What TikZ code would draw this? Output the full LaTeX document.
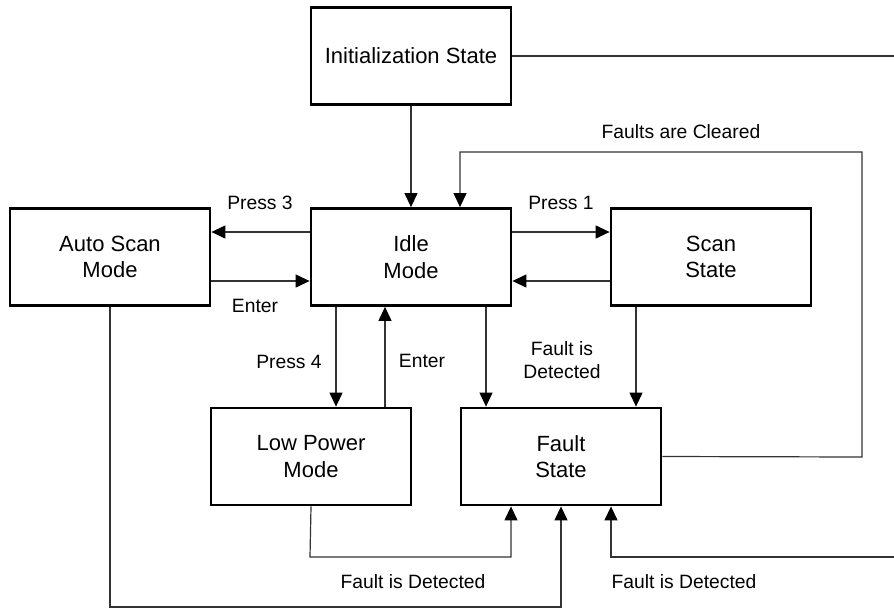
\documentclass[tikz,border=0pt]{standalone}
\usepackage{fontspec}
\setmainfont{Liberation Sans}
\usetikzlibrary{arrows.meta}
\begin{document}
\begin{tikzpicture}[x=1pt,y=-1pt,
 box/.style={draw=black,line width=2.8pt,minimum width=200pt,minimum height=97pt,align=center,font=\fontsize{22}{26.4}\selectfont,inner sep=0pt},
 conn/.style={draw=black!80,line width=1.2pt},
 arr/.style={conn,-{Triangle[length=14pt,width=13pt,color=black]}},
 lbl/.style={font=\fontsize{19.3}{23}\selectfont,align=center,inner sep=0pt}]
\useasboundingbox (0,0) rectangle (894,608);
\clip (0,0) rectangle (894,608);
\fill[white] (0,0) rectangle (894,608);

\node[box] (init) at (411,56) {Initialization State};
\node[box] (idle) at (411,257) {Idle\\Mode};
\node[box] (auto) at (110,257) {Auto Scan\\Mode};
\node[box] (scan) at (711,257) {Scan\\State};
\node[box] (low) at (311,456.5) {Low Power\\Mode};
\node[box] (fault) at (561,456.5) {Fault\\State};

\coordinate (rtop) at (910,56);
\coordinate (rbot) at (910,557);
\coordinate (clr) at (862,457);

% init -> idle
\draw[arr] (init.south) -- (idle.north);
% init -> fault (around the right edge)
\draw[arr] (init.east) -- (rtop) -- (rbot) -- (611,557) -- ([xshift=50pt]fault.south);
% fault -> idle (faults cleared)
\draw[arr] (fault.east) -- (clr) -- (862,152) -- (460,152) -- ([xshift=49pt]idle.north);
% idle <-> auto
\draw[arr] ([yshift=25pt]idle.west) -- ([yshift=25pt]auto.east);
\draw[arr] ([yshift=-24pt]auto.east) -- ([yshift=-24pt]idle.west);
% idle <-> scan
\draw[arr] ([yshift=25pt]idle.east) -- ([yshift=25pt]scan.west);
\draw[arr] ([yshift=-24pt]scan.west) -- ([yshift=-24pt]idle.east);
% idle <-> low
\draw[arr] ([xshift=-75pt]idle.south) -- ([xshift=25pt]low.north);
\draw[arr] ([xshift=74pt]low.north) -- ([xshift=-26pt]idle.south);
% idle -> fault, scan -> fault
\draw[arr] ([xshift=75pt]idle.south) -- ([xshift=-75pt]fault.north);
\draw[arr] ([xshift=-75pt]scan.south) -- ([xshift=75pt]fault.north);
% low -> fault
\draw[arr] (low.south) -- (310,557) -- (511,557) -- ([xshift=-50pt]fault.south);
% auto -> fault
\draw[arr] (auto.south) -- (110,607) -- (561,607) -- (fault.south);

% labels
\node[lbl] (l1) at (260,203) {Press 3};
\node[lbl] (l2) at (255,306) {Enter};
\node[lbl] (l3) at (561,203) {Press 1};
\node[lbl] (l4) at (289,362) {Press 4};
\node[lbl] (l5) at (422,361) {Enter};
\node[lbl] (l6) at (562,360) {Fault is\\Detected};
\node[lbl] (l7) at (681,132) {Faults are Cleared};
\node[lbl] (l8) at (413,582) {Fault is Detected};
\node[lbl] (l9) at (684,582) {Fault is Detected};
\end{tikzpicture}
\end{document}
